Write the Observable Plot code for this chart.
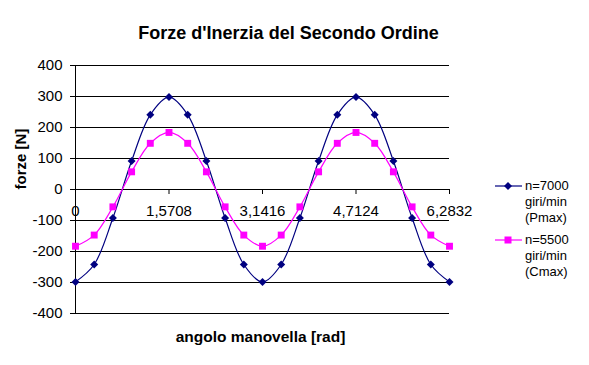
<!DOCTYPE html>
<html>
<head>
<meta charset="utf-8">
<script src="https://cdn.jsdelivr.net/npm/d3@7"></script>
<script src="https://cdn.jsdelivr.net/npm/@observablehq/plot@0.6"></script>
<style>
  body { margin: 0; background: #fff; }
  #wrap { position: relative; width: 589px; height: 365px; font-family: Arial, "Liberation Sans", sans-serif; }
  #legend { position: absolute; left: 494px; top: 178px; font-size: 13px; line-height: 16px; color: #000; }
  .item { position: relative; padding-left: 31px; margin-bottom: 6px; }
  .item svg { position: absolute; left: 0; top: 2px; }
</style>
</head>
<body>
<div id="wrap"></div>
<script>
const title = "Forze d'Inerzia del Secondo Ordine";
const xTitle = "angolo manovella [rad]";
const yTitle = "forze [N]";
const angles = [0, 0.3142, 0.6283, 0.9425, 1.2566, 1.5708, 1.885, 2.1991, 2.5133, 2.8274, 3.1416, 3.4558, 3.7699, 4.0841, 4.3982, 4.7124, 5.0265, 5.3407, 5.6549, 5.969, 6.2832];
const f7000 = [-298, -242, -92, 92, 241, 298, 241, 92, -92, -242, -298, -242, -92, 92, 241, 298, 241, 92, -92, -242, -298];
const f5500 = [-183, -147, -56, 57, 149, 184, 149, 57, -56, -147, -183, -147, -56, 57, 149, 184, 149, 57, -56, -147, -183];
const xTicks = [0, 1.5708, 3.1416, 4.7124, 6.2832];
const xTickLabels = ["0", "1,5708", "3,1416", "4,7124", "6,2832"];
const yTicks = [-400, -300, -200, -100, 0, 100, 200, 300, 400];
const seriesNames = [["n=7000", "giri/min", "(Pmax)"], ["n=5500", "giri/min", "(Cmax)"]];
const colors = ["#000080", "#ff00ff"];

const d7000 = angles.map((a, i) => ({a, v: f7000[i]}));
const d5500 = angles.map((a, i) => ({a, v: f5500[i]}));

const chart = Plot.plot({
  width: 589,
  height: 365,
  marginLeft: 75,
  marginRight: 140,
  marginTop: 65,
  marginBottom: 52,
  style: {fontFamily: "Arial, 'Liberation Sans', sans-serif", fontSize: "15px", background: "#fff", color: "#000"},
  x: {domain: [0, 6.2832], axis: null},
  y: {domain: [-400, 400], axis: null},
  marks: [
    Plot.ruleY(yTicks, {stroke: "#000", strokeWidth: 1, insetLeft: -5}),
    Plot.ruleX([0], {stroke: "#000", strokeWidth: 1}),
    Plot.text(yTicks, {frameAnchor: "left", y: d => d, text: d => String(d), textAnchor: "end", dx: -13, fontSize: 15}),
    Plot.ruleX(xTicks, {x: d => d, y1: 0, y2: 0, insetBottom: -5, stroke: "#000"}),
    Plot.text(xTicks, {x: d => d, y: 0, text: (d, i) => xTickLabels[i], dy: 22, fontSize: 15}),
    Plot.line(d7000, {x: "a", y: "v", stroke: colors[0], strokeWidth: 1.2, curve: "catmull-rom"}),
    Plot.line(d5500, {x: "a", y: "v", stroke: colors[1], strokeWidth: 1.2, curve: "catmull-rom"}),
    Plot.dot(d7000, {x: "a", y: "v", symbol: "diamond2", r: 3.6, fill: colors[0], stroke: "none"}),
    Plot.dot(d5500, {x: "a", y: "v", symbol: "square2", r: 4.4, fill: colors[1], stroke: "none"}),
    Plot.text([title], {frameAnchor: "top", dy: -39, dx: 26, text: d => d, fontWeight: "bold", fontSize: 18}),
    Plot.text([xTitle], {frameAnchor: "bottom", dy: 28, dx: -2, text: d => d, fontWeight: "bold", fontSize: 15.5}),
    Plot.text([yTitle], {frameAnchor: "left", dx: -54, rotate: -90, text: d => d, fontWeight: "bold", fontSize: 15})
  ]
});

const wrap = document.getElementById("wrap");
wrap.appendChild(chart);

const legend = document.createElement("div");
legend.id = "legend";
seriesNames.forEach((lines, i) => {
  const item = document.createElement("div");
  item.className = "item";
  const marker = i === 0
    ? `<polygon points="14,2 18,6 14,10 10,6" fill="${colors[0]}"/>`
    : `<rect x="10.5" y="2.5" width="7" height="7" fill="${colors[1]}"/>`;
  item.innerHTML = `<svg width="30" height="12"><line x1="1" y1="6" x2="28" y2="6" stroke="${colors[i]}" stroke-width="1.2"/>${marker}</svg>` +
    lines.map(l => `<div>${l}</div>`).join("");
  legend.appendChild(item);
});
wrap.appendChild(legend);
</script>
</body>
</html>
